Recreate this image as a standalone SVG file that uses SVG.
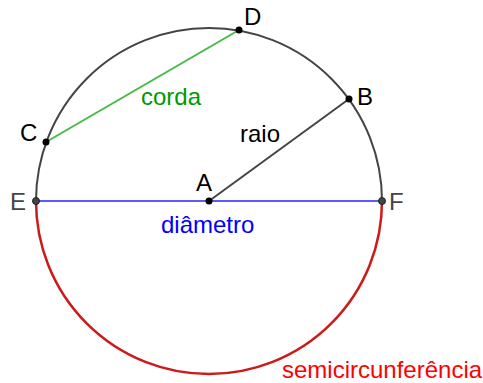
<svg xmlns="http://www.w3.org/2000/svg" width="483" height="383" viewBox="0 0 483 383">
<style>
text{font-family:"Liberation Sans",Arial,sans-serif;font-size:24px}
.lbl{fill:#000}
.glbl{fill:#444}
.pt{fill:#000}
.gpt{fill:#444;stroke:#222;stroke-width:1}
</style>
<rect width="483" height="383" fill="#fff"/>
<g id="connectors" fill="none" stroke-width="2">
<path id="circle" d="M36,201 A173,173 0 0 1 382,201" stroke="#444"/>
<path id="semicircle" d="M36,201 A173,173 0 0 0 382,201" stroke="#cc1a1a" stroke-width="2.5"/>
<line id="diametro" x1="36" y1="201" x2="382" y2="201" stroke="#5a5aff"/>
<line id="raio" x1="209" y1="201" x2="349" y2="99" stroke="#444"/>
<line id="corda" x1="46" y1="142" x2="239" y2="30" stroke="#44bb44"/>
</g>
<g id="node-A"><circle class="pt" cx="209" cy="201" r="3.5"/><text class="lbl" x="196" y="191">A</text></g>
<g id="node-B"><circle class="pt" cx="349" cy="99" r="3.5"/><text class="lbl" x="357" y="105">B</text></g>
<g id="node-C"><circle class="pt" cx="46" cy="142" r="3.5"/><text class="lbl" x="20" y="141">C</text></g>
<g id="node-D"><circle class="pt" cx="239" cy="30" r="3.5"/><text class="lbl" x="244" y="25">D</text></g>
<g id="node-E"><circle class="gpt" cx="36" cy="201" r="3.5"/><text class="glbl" x="10" y="210">E</text></g>
<g id="node-F"><circle class="gpt" cx="382" cy="201" r="3.5"/><text class="glbl" x="389" y="210">F</text></g>
<g id="labels">
<text x="141" y="105" fill="#009900">corda</text>
<text x="240" y="142" fill="#000">raio</text>
<text x="161" y="233" fill="#0000ff">diâmetro</text>
<text x="282" y="378" fill="#ff0000">semicircunferência</text>
</g>
</svg>
